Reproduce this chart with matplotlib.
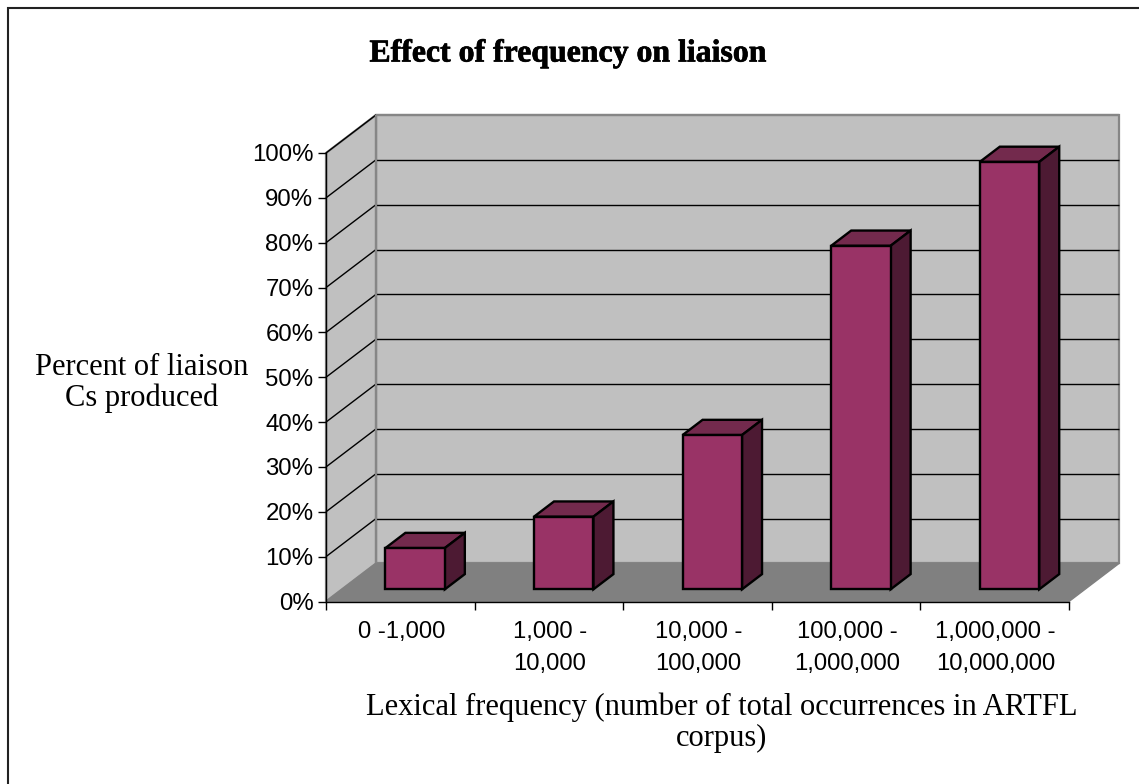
import matplotlib
matplotlib.use('Agg')
import matplotlib.pyplot as plt
import matplotlib.patheffects as pe
from matplotlib.lines import Line2D
from matplotlib.patches import Polygon

# values
categories = ['0 -1,000', '1,000 -\n10,000', '10,000 -\n100,000', '100,000 -\n1,000,000', '1,000,000 -\n10,000,000']
liaison = [9.2, 16.2, 34.4, 76.6, 95.3]
yticks = list(range(0, 101, 10))
ylabels = [str(t) + '%' for t in yticks]

W, H = 1139, 784
WALL = '#c0c0c0'
WALL_EDGE = '#868686'
FLOOR = '#808080'
FRONT = '#993366'
TOP = '#732a4d'
SIDE = '#4d1a33'

# depth of the fake 3D box, in data units
DX = 50 / 148.6
DY = 38 / 4.48
BAR_W = 0.4
D0, D1 = 0.32, 0.72
BAR_SHIFT = -0.008


def poly(ax, pts, fc, ec, lw, z):
    ax.add_patch(Polygon(pts, closed=True, fc=fc, ec=ec, lw=lw, zorder=z, clip_on=False, joinstyle='miter'))


def seg(ax, xs, ys, c='black', lw=1.0, z=3):
    ax.plot(xs, ys, color=c, lw=lw, zorder=z, clip_on=False, solid_capstyle='butt')


fig = plt.figure(figsize=(W / 100, H / 100), dpi=100)
ax = fig.add_axes([326 / W, 1 - 601.5 / H, (1069 - 326) / W, (601.5 - 153) / H])
ax.set_xlim(0, 5)
ax.set_ylim(0, 100)
ax.patch.set_visible(False)
for s in ['top', 'right']:
    ax.spines[s].set_visible(False)
for s in ['left', 'bottom']:
    ax.spines[s].set_linewidth(1.0)
    ax.spines[s].set_zorder(6)

n = len(categories)
# walls and floor
poly(ax, [(DX, DY), (n + DX, DY), (n + DX, 100 + DY), (DX, 100 + DY)], WALL, WALL_EDGE, 1.6, 1)
poly(ax, [(0, 0), (DX, DY), (DX, 100 + DY), (0, 100)], WALL, WALL_EDGE, 1.6, 1)
poly(ax, [(0, 0), (n, 0), (n + DX, DY), (DX, DY)], FLOOR, FLOOR, 1.0, 2)

# gridlines on the side and back walls
for t in yticks[1:]:
    seg(ax, [0, DX], [t, t + DY])
    if t < 100:
        seg(ax, [DX, n + DX], [t + DY, t + DY])
    else:
        seg(ax, [DX, n + DX], [t + DY, t + DY], c=WALL_EDGE, lw=1.6)
seg(ax, [DX, DX], [DY, 100 + DY], c=WALL_EDGE, lw=1.6)

# bars
for i, v in enumerate(liaison):
    x0 = i + (1 - BAR_W) / 2 + D0 * DX + BAR_SHIFT
    x1 = x0 + BAR_W
    y0 = D0 * DY
    y1 = y0 + v
    ddx = (D1 - D0) * DX
    ddy = (D1 - D0) * DY
    poly(ax, [(x0, y1), (x1, y1), (x1 + ddx, y1 + ddy), (x0 + ddx, y1 + ddy)], TOP, 'black', 1.7, 4)
    poly(ax, [(x1, y0), (x1 + ddx, y0 + ddy), (x1 + ddx, y1 + ddy), (x1, y1)], SIDE, 'black', 1.7, 4)
    ax.bar(x0, v, width=BAR_W, bottom=y0, align='edge', color=FRONT, edgecolor='black', linewidth=1.7, zorder=5)

# axes
ax.set_yticks(yticks)
ax.set_yticklabels(ylabels, fontsize=17.3, family='Liberation Sans')
ax.set_xticks(range(n + 1))
ax.set_xticklabels([])
ax.tick_params(axis='both', direction='out', length=6, width=1.0, color='black', pad=3)

for i, c in enumerate(categories):
    fig.text((327 + 148.6 * (i + 0.5)) / W, 1 - 621 / H, c, ha='center', va='top', fontsize=17.2,
             family='Liberation Sans', linespacing=1.58)

# titles
t = fig.text(568 / W, 1 - 54 / H, 'Effect of frequency on liaison', ha='center', va='center', fontsize=22.9,
             family='Liberation Serif', weight='bold')
t.set_path_effects([pe.withStroke(linewidth=0.5, foreground='black')])
fig.text(142 / W, 1 - 383 / H, 'Percent of liaison\nCs produced', ha='center', va='center', fontsize=22,
         family='Liberation Serif', linespacing=1.08)
fig.text(722 / W, 1 - 723 / H, 'Lexical frequency (number of total occurrences in ARTFL\ncorpus)', ha='center',
         va='center', fontsize=22, family='Liberation Serif', linespacing=1.08)

# the frame only shows on the top and left
fig.add_artist(Line2D([7.5 / W, 7.5 / W, 1], [0, 1 - 7.5 / H, 1 - 7.5 / H], transform=fig.transFigure,
                      color='#222222', lw=1.5, solid_joinstyle='miter'))
fig.savefig('out.png', dpi=100)
